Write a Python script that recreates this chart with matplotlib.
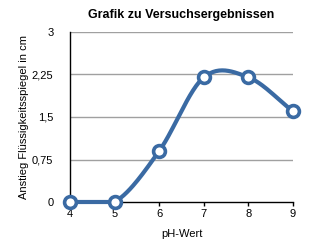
import numpy as np
import matplotlib
matplotlib.use("Agg")
import matplotlib.pyplot as plt

ph = [4, 5, 6, 7, 8, 9]
rise = [0, 0, 0.9, 2.2, 2.2, 1.6]
yticks = [0, 0.75, 1.5, 2.25, 3]
ylabels = ["0", "0,75", "1,5", "2,25", "3"]

plt.rcParams["font.family"] = ["Liberation Sans", "DejaVu Sans"]
blue = "#3a6aa3"


def catmull_rom(xs, ys, n=30):
    # smooth line through the points, like the spreadsheet does
    xs = np.asarray(xs, float)
    ys = np.asarray(ys, float)
    px = np.concatenate([[2 * xs[0] - xs[1]], xs, [2 * xs[-1] - xs[-2]]])
    py = np.concatenate([[2 * ys[0] - ys[1]], ys, [2 * ys[-1] - ys[-2]]])
    outx, outy = [], []
    t = np.linspace(0, 1, n)
    for i in range(1, len(px) - 2):
        for p, out in ((px, outx), (py, outy)):
            p0, p1, p2, p3 = p[i - 1], p[i], p[i + 1], p[i + 2]
            out.extend(0.5 * (2 * p1 + (-p0 + p2) * t
                              + (2 * p0 - 5 * p1 + 4 * p2 - p3) * t ** 2
                              + (-p0 + 3 * p1 - 3 * p2 + p3) * t ** 3))
    return np.array(outx), np.array(outy)


fig = plt.figure(figsize=(3.23, 2.5), dpi=100)
ax = fig.add_axes([70 / 323, 48 / 250, 223 / 323, 170 / 250])

sx, sy = catmull_rom(ph, rise)
sy = np.maximum(sy, 0)  # chart floor, no dip below zero
ax.plot(sx, sy, color=blue, lw=3, solid_capstyle="round", clip_on=False, zorder=3)
ax.plot(ph, rise, "o", ms=8.5, mfc="white", mec=blue, mew=2.6, clip_on=False, zorder=4)

ax.set_xlim(4, 9)
ax.set_ylim(0, 3)
ax.set_xticks(ph)
ax.set_yticks(yticks)
ax.set_yticklabels(ylabels)
for y in yticks[1:]:
    ax.axhline(y, color="#a0a0a0", lw=1, zorder=1)

for s in ["top", "right"]:
    ax.spines[s].set_visible(False)
ax.spines["left"].set_linewidth(1)
ax.spines["bottom"].set_linewidth(1)
ax.tick_params(axis="x", length=3, width=1, labelsize=8, pad=2)
ax.tick_params(axis="y", length=0, labelsize=8, pad=12)

ax.set_xlabel("pH-Wert", fontsize=8, labelpad=7)
ax.set_ylabel("Anstieg Flüssigkeitsspiegel in cm", fontsize=8, labelpad=2)
ax.set_title("Grafik zu Versuchsergebnissen", fontsize=9, fontweight="bold", pad=10)

fig.savefig("out.png", dpi=100)
